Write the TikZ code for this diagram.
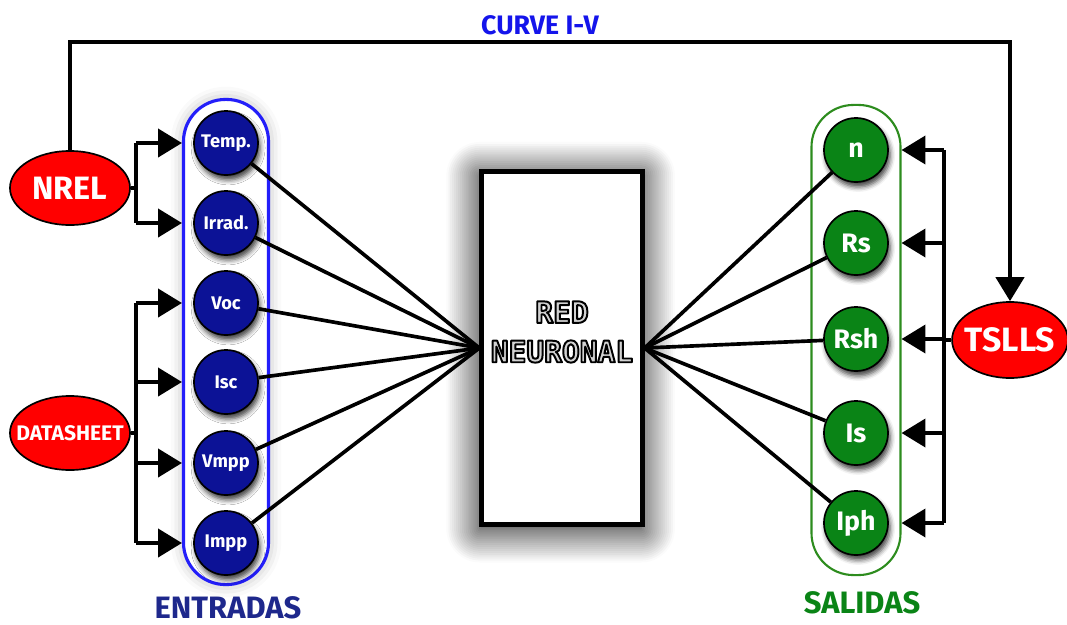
\documentclass[tikz,border=0pt]{standalone}
\usepackage{fontspec}
\setmainfont{Fira Sans}
\newfontfamily\netfont{DejaVu Sans Mono}
\usetikzlibrary{arrows.meta,positioning,shapes.geometric,shadows.blur}

\definecolor{inblue}{RGB}{12,18,150}
\definecolor{pillblue}{RGB}{35,30,250}
\definecolor{outgreen}{RGB}{10,132,22}
\definecolor{pillgreen}{RGB}{45,140,30}
\definecolor{srcred}{RGB}{255,0,0}
\definecolor{entblue}{RGB}{30,40,140}
\definecolor{curveblue}{RGB}{20,20,235}

% outlined lettering for the network block (fill + stroke text mode)
\newcommand{\outlined}[1]{{\color{gray!35}%
  \special{pdf:literal direct 2 Tr 1.4 w 0 G 1 j}#1\special{pdf:literal direct 0 Tr}}}

\tikzset{
  unit/.style={circle, draw=black, line width=1.2pt, minimum size=1.6cm,
    inner sep=0pt, text=white,
    blur shadow={shadow xshift=1.5pt, shadow yshift=-3.5pt, shadow blur radius=3.5pt, shadow opacity=75}},
  innode/.style={unit, fill=inblue, font=\bfseries\fontsize{13}{13}\selectfont},
  outnode/.style={unit, fill=outgreen, font=\bfseries\fontsize{19}{19}\selectfont},
  source/.style={ellipse, draw=black, line width=1.2pt, fill=srcred, text=white,
    inner sep=0pt, minimum width=3cm, minimum height=1.85cm},
  pill/.style={rectangle, rounded corners=1.05cm, inner sep=0pt},
  arr/.style={-{Triangle[length=17pt,width=20pt]}},
}

\begin{document}
\begin{tikzpicture}[x=0.025cm,y=-0.025cm,line width=2.6pt]
\useasboundingbox (0,0) rectangle (1067,625);

% groups of inputs and outputs
\node[pill, draw=pillblue, line width=2.2pt, fill=white, minimum width=2.125cm, minimum height=12.125cm,
  blur shadow={shadow xshift=0pt, shadow yshift=0pt, shadow blur radius=9pt, shadow opacity=30}]
  (inpill) at (226,342) {};
\node[pill, draw=pillgreen, line width=1.5pt, minimum width=2.225cm, minimum height=11.75cm]
  (outpill) at (856,340) {};

% network block
\node[draw=black, line width=3pt, fill=white, minimum width=4.025cm, minimum height=8.825cm,
  blur shadow={shadow xshift=-1pt, shadow yshift=-3pt, shadow blur radius=24pt, shadow blur steps=18, shadow opacity=100}]
  (net) at (562,348) {};
\node[align=center, font=\netfont\bfseries\fontsize{21}{28}\selectfont]
  (netlabel) at (562,332) {\outlined{RED}\\\outlined{NEURONAL}};

% inputs
\foreach \name/\txt/\y in {temp/Temp./143, irrad/Irrad./223, voc/Voc/303,
                           isc/Isc/382, vmpp/Vmpp/463, impp/Impp/543}
  \node[innode] (\name) at (226,\y) {\txt};

% outputs
\foreach \name/\txt/\y in {n/n/150, rs/Rs/243, rsh/Rsh/339, is/Is/433, iph/Iph/523}
  \node[outnode] (\name) at (856,\y) {\txt};

% data sources
\node[source, font=\bfseries\fontsize{23}{23}\selectfont] (nrel) at (70,188) {NREL};
\node[source, inner xsep=-9pt, font=\bfseries\fontsize{15}{15}\selectfont] (data) at (70,433) {DATASHEET};
\node[source, inner xsep=-3pt, minimum width=2.875cm, minimum height=1.9cm, font=\bfseries\fontsize{24}{24}\selectfont]
  (tslls) at (1010,340) {TSLLS};

% connections to the network
\foreach \name in {temp,irrad,voc,isc,vmpp,impp}
  \draw (\name) -- (net.west);
\foreach \name in {n,rs,rsh,is,iph}
  \draw (\name) -- (net.east);

% NREL feeds temperature and irradiance
\draw (nrel.east) -- ++(5,0) coordinate (nf);
\draw (nf |- temp) -- (nf |- irrad);
\foreach \name in {temp,irrad}
  \draw[arr] (nf |- \name) -- (\name -| inpill.west);

% datasheet values
\draw (data.east) -- ++(5,0) coordinate (df);
\draw (df |- voc) -- (df |- impp);
\foreach \name in {voc,isc,vmpp,impp}
  \draw[arr] (df |- \name) -- (\name -| inpill.west);

% TSLLS gives the target parameters
\draw (tslls.west) -- ++(-7,0) coordinate (tf);
\draw (tf |- n) -- (tf |- iph);
\foreach \name in {n,rs,rsh,is,iph}
  \draw[arr] (tf |- \name) -- (\name -| outpill.east);

% I-V curve path
\draw[arr] (nrel.north) -- ++(0,-108) -| (tslls.north);
\node[text=curveblue, font=\bfseries\fontsize{19}{19}\selectfont] (curve) at (540,25) {CURVE I-V};

% captions
\node[text=entblue, font=\bfseries\fontsize{22}{22}\selectfont] (entradas) at (228,608) {ENTRADAS};
\node[text=outgreen, font=\bfseries\fontsize{22}{22}\selectfont] (salidas) at (862,603) {SALIDAS};
\end{tikzpicture}
\end{document}
